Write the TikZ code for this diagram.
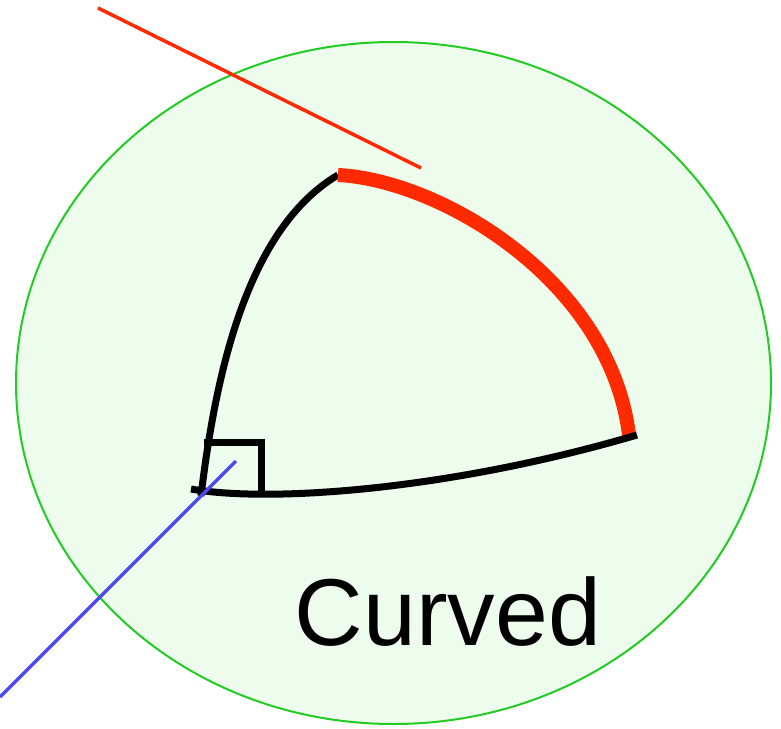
\documentclass[tikz,border=0pt]{standalone}
\usepackage{fontspec}
\setmainfont{Liberation Sans}
\usetikzlibrary{shapes.geometric}
\definecolor{ellfill}{HTML}{EEFCEE}
\definecolor{elldraw}{HTML}{22CC22}
\definecolor{redl}{HTML}{FF2A00}
\definecolor{bluel}{HTML}{4A4AF0}
\begin{document}
\begin{tikzpicture}[x=1pt,y=-1pt,
  blackcurve/.style={line width=7pt,black},
  thinline/.style={line width=3.5pt}]
\useasboundingbox (0,0) rectangle (781,728);
\node[ellipse,draw=elldraw,fill=ellfill,line width=2pt,minimum width=755pt,minimum height=682pt,inner sep=0pt] (ell) at (393.5,383) {};
\coordinate (rA) at (98,8);
\coordinate (rB) at (421,168);
\draw[thinline,redl] (rA) -- (rB);
\coordinate (top) at (338,175);
\coordinate (bl) at (201,496);
\coordinate (br) at (637,435);
\coordinate (rend) at (629,435);
\coordinate (bs) at (191,489);
\draw[blackcurve] (bl) .. controls (215,380) and (245,230) .. (top);
\draw[line width=14pt,redl] (top) .. controls (440,180) and (610,280) .. (rend);
\draw[blackcurve] (bs) .. controls (270,503) and (450,490) .. (br);
\coordinate (q1) at (204,442);
\coordinate (q2) at (261,442);
\coordinate (q3) at (261,495);
\draw[blackcurve] (q1) -- (q2) -- (q3);
\coordinate (bA) at (236,461);
\coordinate (bB) at (0,697);
\draw[thinline,bluel] (bA) -- (bB);
\node[inner sep=0pt,font=\fontsize{95}{100}\selectfont] (lbl) at (448,612) {Curved};
\end{tikzpicture}
\end{document}
